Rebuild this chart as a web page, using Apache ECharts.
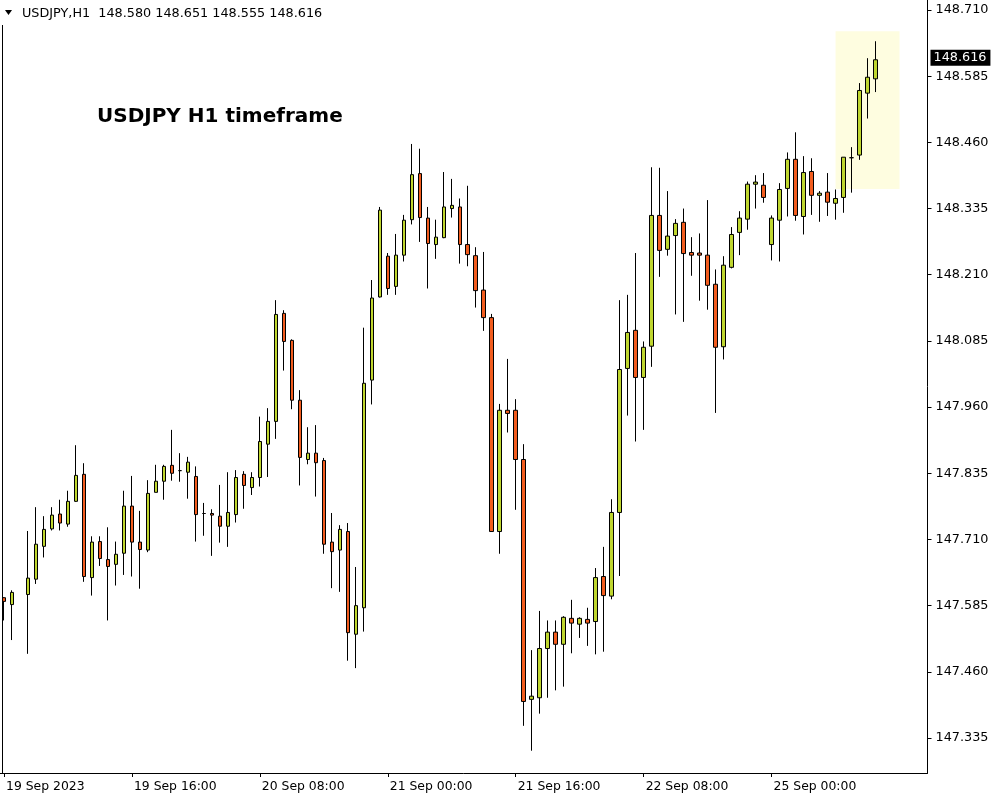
<!DOCTYPE html>
<html>
<head>
<meta charset="utf-8">
<script src="https://cdn.jsdelivr.net/npm/echarts@6.0.0/dist/echarts.min.js"></script>
<style>html,body{margin:0;padding:0;background:#fff;}#chart{width:1000px;height:800px;}</style>
</head>
<body>
<div id="chart"></div>
<script>
// ---- data (USDJPY H1) ----
const tickLabels = ['19 Sep 2023','19 Sep 16:00','20 Sep 08:00','21 Sep 00:00','21 Sep 16:00','22 Sep 08:00','25 Sep 00:00'];
const tickIndex = [0,16,32,48,64,80,96];
const yTicks = [147.335,147.460,147.585,147.710,147.835,147.960,148.085,148.210,148.335,148.460,148.585,148.710];
const days = [['19 Sep',24],['20 Sep',24],['21 Sep',24],['22 Sep',24],['25 Sep',20]];

const opens = [147.600,147.587,null,147.606,147.635,147.697,147.730,147.758,147.739,147.782,
147.833,147.638,147.706,147.672,147.663,147.684,147.773,147.705,147.690,147.799,
147.820,147.850,147.840,147.837,147.829,147.759,147.759,147.754,147.735,147.757,
147.833,147.808,147.827,147.890,147.933,148.137,148.086,147.973,147.861,147.873,
147.859,147.705,147.690,147.725,147.531,147.581,148.011,148.168,148.245,148.188,
148.247,148.314,148.401,148.317,148.267,148.280,148.335,148.338,148.267,148.246,
148.181,148.129,147.725,147.954,147.954,147.861,147.408,147.411,147.504,147.535,
147.512,147.561,147.550,147.559,147.555,147.640,147.603,147.761,148.033,148.105,
148.016,148.075,148.322,148.258,148.284,148.309,148.252,148.251,148.247,148.192,
148.074,148.224,148.290,148.315,148.381,148.379,148.267,148.313,148.373,148.428,
148.320,148.405,148.360,148.366,148.345,148.356,148.431,148.436,148.553,148.580];

const closes = [147.593,147.610,null,147.637,147.701,147.729,147.756,147.741,147.782,147.831,
147.640,147.705,147.674,147.659,147.682,147.773,147.705,147.691,147.797,147.820,
147.848,147.835,147.840,147.856,147.757,147.759,147.756,147.735,147.761,147.827,
147.812,147.827,147.895,147.933,148.135,148.084,147.973,147.865,147.873,147.855,
147.701,147.687,147.729,147.534,147.585,148.005,148.166,148.332,148.184,148.247,
148.313,148.399,148.318,148.269,148.281,148.338,148.341,148.267,148.248,148.180,
148.129,147.725,147.954,147.948,147.861,147.404,147.414,147.504,147.535,147.512,
147.563,147.552,147.561,147.552,147.638,147.604,147.761,148.031,148.101,148.016,
148.073,148.322,148.256,148.283,148.307,148.250,148.247,148.247,148.190,148.073,
148.228,148.286,148.317,148.381,148.385,148.356,148.317,148.371,148.428,148.322,
148.403,148.360,148.364,148.347,148.354,148.432,148.431,148.558,148.583,148.616];

const lows = [147.557,147.520,null,147.494,147.626,147.676,147.727,147.727,147.734,147.781,
147.630,147.604,147.660,147.557,147.623,147.643,147.640,147.617,147.686,147.799,
147.785,147.821,147.819,147.787,147.706,147.717,147.679,147.704,147.696,147.742,
147.768,147.794,147.810,147.828,147.900,148.029,147.956,147.812,147.852,147.791,
147.683,147.618,147.611,147.481,147.467,147.536,147.965,148.167,148.172,148.172,
148.235,148.305,148.272,148.184,148.240,148.279,148.318,148.231,148.226,148.148,
148.104,147.725,147.683,147.912,147.766,147.358,147.311,147.381,147.411,147.425,
147.432,147.495,147.524,147.509,147.493,147.498,147.597,147.641,147.944,147.895,
147.917,148.036,148.206,148.246,148.135,148.121,148.208,148.161,148.144,147.949,
148.050,148.222,148.247,148.295,148.335,148.346,148.237,148.235,148.320,148.312,
148.286,148.323,148.310,148.321,148.314,148.327,148.365,148.427,148.505,148.555];

const highs = [147.601,147.614,null,147.726,147.771,147.754,147.771,147.785,147.802,147.888,
147.854,147.716,147.716,147.733,147.706,147.802,147.830,147.764,147.822,147.851,
147.851,147.917,147.873,147.866,147.848,147.779,147.767,147.813,147.837,147.841,
147.839,147.837,147.942,147.958,148.162,148.143,148.088,147.992,147.922,147.926,
147.864,147.760,147.737,147.741,147.658,148.110,148.200,148.338,148.251,148.287,
148.323,148.457,148.448,148.338,148.314,148.404,148.391,148.354,148.378,148.262,
148.253,148.136,147.966,148.051,147.975,147.890,147.501,147.575,147.557,147.557,
147.565,147.596,147.563,147.581,147.656,147.696,147.786,148.162,148.172,148.251,
148.084,148.413,148.412,148.368,148.315,148.335,148.281,148.288,148.351,148.220,
148.245,148.300,148.330,148.386,148.398,148.402,148.322,148.383,148.441,148.479,
148.434,148.430,148.368,148.402,148.371,148.432,148.451,148.572,148.619,148.651];

const headerText = 'USDJPY,H1  148.580 148.651 148.555 148.616';
const titleText = 'USDJPY H1 timeframe';
const lastPrice = 148.616;
const highlightFrom = 104, highlightTo = 112;
const highlightTop = 148.670, highlightBottom = 148.372;

// ---- build ----
const times = [];
days.forEach(([d, n]) => {
  for (let h = 0; h < n; h++) times.push(d + ' ' + String(h).padStart(2, '0') + ':00');
});
const candles = opens.map((o, i) => o == null ? ['-','-','-','-'] : [o, closes[i], lows[i], highs[i]]);

const FONT = '"DejaVu Sans", Verdana, sans-serif';
const isTick = (idx) => tickIndex.indexOf(idx) >= 0;

const chart = echarts.init(document.getElementById('chart'), null, {renderer: 'canvas'});
chart.setOption({
  animation: false,
  backgroundColor: '#ffffff',
  grid: {left: -0.5, right: 72.5, top: 0, bottom: 27, containLabel: false},
  xAxis: {
    type: 'category',
    data: times,
    boundaryGap: true,
    axisLine: {show: true, lineStyle: {color: '#000', width: 1}},
    axisTick: {show: true, interval: isTick, alignWithLabel: true, length: 4, lineStyle: {color: '#000'}},
    axisLabel: {
      interval: isTick,
      align: 'left',
      padding: [0, 0, 0, 2],
      margin: 8,
      color: '#000',
      fontFamily: FONT,
      fontSize: 12.4,
      formatter: (v, idx) => isTick(idx) ? tickLabels[tickIndex.indexOf(idx)] : ''
    },
    splitLine: {show: false}
  },
  yAxis: {
    type: 'value',
    position: 'right',
    min: 147.2689,
    max: 148.7289,
    scale: true,
    axisLine: {show: true, lineStyle: {color: '#000', width: 1}},
    axisTick: {show: true, customValues: yTicks, length: 4, inside: false, lineStyle: {color: '#000'}},
    axisLabel: {
      customValues: yTicks,
      margin: 8,
      color: '#000',
      fontFamily: FONT,
      fontSize: 12.8,
      formatter: (v) => Number(v).toFixed(3)
    },
    splitLine: {show: false}
  },
  graphic: [
    {type: 'line', shape: {x1: 2.5, y1: 25, x2: 2.5, y2: 773}, style: {stroke: '#000', lineWidth: 1}, z: 100},
    {type: 'polygon', shape: {points: [[5, 10], [12, 10], [8.5, 15]]}, style: {fill: '#000'}, z: 100},
    {type: 'text', x: 22, y: 14, style: {text: headerText, font: '12.8px ' + FONT, fill: '#000', verticalAlign: 'middle', textAlign: 'left'}, z: 100},
    {type: 'text', x: 97, y: 117, style: {text: titleText, font: 'bold 20px ' + FONT, fill: '#000', verticalAlign: 'middle', textAlign: 'left'}, z: 100}
  ],
  series: [
    {
      type: 'line',
      data: [],
      z: 0,
      silent: true,
      markArea: {
        silent: true,
        itemStyle: {color: '#fefde0'},
        data: [[{xAxis: times[highlightFrom], yAxis: highlightTop}, {xAxis: times[highlightTo], yAxis: highlightBottom}]]
      }
    },
    {
      type: 'candlestick',
      data: candles,
      z: 5,
      barWidth: 4,
      itemStyle: {
        color: '#bfd62f',
        color0: '#f25c1e',
        borderColor: '#000',
        borderColor0: '#000',
        borderColorDoji: '#000',
        borderWidth: 1
      },
      markLine: {
        silent: true,
        symbol: ['none', 'none'],
        lineStyle: {color: 'rgba(0,0,0,0)', width: 0, type: 'solid'},
        label: {
          show: true,
          position: 'end',
          distance: 3,
          formatter: () => lastPrice.toFixed(3),
          color: '#fff',
          backgroundColor: '#000',
          padding: [2, 4, 1, 3],
          fontFamily: FONT,
          fontSize: 12.8
        },
        data: [{yAxis: lastPrice}]
      }
    }
  ]
});
</script>
</body>
</html>
